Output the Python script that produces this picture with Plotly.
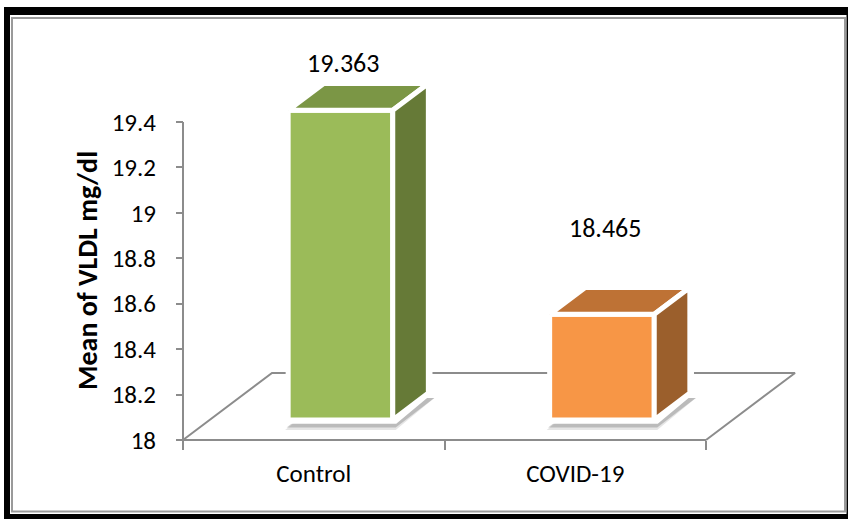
import plotly.graph_objects as go

# ---- data -------------------------------------------------------------
categories = ["Control", "COVID-19"]
means = [19.363, 18.465]
value_labels = ["19.363", "18.465"]
y_ticks = [18, 18.2, 18.4, 18.6, 18.8, 19, 19.2, 19.4]
y_tick_text = ["18", "18.2", "18.4", "18.6", "18.8", "19", "19.2", "19.4"]
y_title = "Mean of VLDL mg/dl"

# ---- styling ----------------------------------------------------------
FONT = "Calibri, Carlito, Lato, sans-serif"
FS_TICK = 25
FS_VALUE = 26
FS_TITLE = 28
AXIS_GRAY = "#8C8C8C"
face_colors = [
    dict(front="#9BBB59", top="#7B9645", side="#667A37"),
    dict(front="#F79646", top="#BE7235", side="#9B5F2C"),
]
label_yshift = [47, 86]

W, H = 848, 520
X0_PX, CAT_PX = 183, 261.5      # left end of the floor, width of one category
Y0_PX, UNIT_PX = 440, 227.1     # pixel row of the baseline, pixels per mg/dl
BASE = 18.0
DEPTH_PX = (89, 67)             # oblique offset of the floor's back edge

x_range = [-X0_PX / CAT_PX, (W - X0_PX) / CAT_PX]
y_range = [BASE - (H - Y0_PX) / UNIT_PX, BASE + Y0_PX / UNIT_PX]
DX = DEPTH_PX[0] / CAT_PX
DY = DEPTH_PX[1] / UNIT_PX
HALF_W = 0.2                    # half bar width (category units)
D_FRONT, D_BACK = 0.3, 0.7      # bar depth span inside the floor
n = len(categories)

fig = go.Figure()


def poly(xs, ys, fill, line_color="white", line_width=5):
    fig.add_trace(go.Scatter(
        x=list(xs) + [xs[0]], y=list(ys) + [ys[0]],
        mode="lines", fill="toself", fillcolor=fill,
        line=dict(color=line_color, width=line_width),
        hoverinfo="skip", showlegend=False))


# floor of the 3-D plot
fig.add_trace(go.Scatter(
    x=[n, 0, DX, n + DX, n],
    y=[BASE, BASE, BASE + DY, BASE + DY, BASE],
    mode="lines", line=dict(color=AXIS_GRAY, width=2),
    hoverinfo="skip", showlegend=False))

# value axis line
fig.add_trace(go.Scatter(
    x=[0, 0], y=[BASE, y_ticks[-1]],
    mode="lines", line=dict(color=AXIS_GRAY, width=2),
    hoverinfo="skip", showlegend=False))

# 3-D columns
for i, (cat, v) in enumerate(zip(categories, means)):
    c = i + 0.5
    xl_f, xr_f = c - HALF_W + D_FRONT * DX, c + HALF_W + D_FRONT * DX
    xl_b, xr_b = c - HALF_W + D_BACK * DX, c + HALF_W + D_BACK * DX
    yb_f, yb_b = BASE + D_FRONT * DY, BASE + D_BACK * DY
    yt_f, yt_b = v + D_FRONT * DY, v + D_BACK * DY
    col = face_colors[i]

    # soft shadow under the column
    sdx, sdy = 3 / CAT_PX, 5 / UNIT_PX
    for k, a in [(1.0, 0.10), (0.5, 0.18)]:
        poly([xl_f - sdx * k, xr_f + sdx, xr_b + sdx * 2, xl_b],
             [yb_f - sdy * (1 + k), yb_f - sdy * (1 + k), yb_b - sdy, yb_b - sdy],
             "rgba(0,0,0,%.2f)" % a, line_color="rgba(0,0,0,0)", line_width=0)

    poly([xl_f - 0.012, xr_f + 0.012, xr_b + 0.012, xr_b + 0.012, xl_b - 0.012],
         [yb_f - 0.012, yb_f - 0.012, yb_b, yt_b + 0.014, yt_b + 0.014],
         "white", line_color="white", line_width=2)
    poly([xl_f, xr_f, xr_f, xl_f], [yb_f, yb_f, yt_f, yt_f], col["front"])
    poly([xl_f, xr_f, xr_b, xl_b], [yt_f, yt_f, yt_b, yt_b], col["top"])
    poly([xr_f, xr_b, xr_b, xr_f], [yb_f, yb_b, yt_b, yt_f], col["side"])

    fig.add_annotation(
        x=c + D_FRONT * DX, y=yt_f, text=value_labels[i],
        showarrow=False, xshift=3, yshift=label_yshift[i],
        font=dict(family=FONT, size=FS_VALUE, color="#000000"))

# ---- frame --------------------------------------------------------------
def px(xp):
    return xp / W


def py(yp):
    return 1 - yp / H


shapes = [
    dict(type="rect", x0=px(4), x1=px(848), y0=py(7), y1=py(15)),
    dict(type="rect", x0=px(4), x1=px(10), y0=py(7), y1=py(519)),
    dict(type="rect", x0=px(4), x1=px(848), y0=py(514), y1=py(519)),
    dict(type="rect", x0=px(846.5), x1=px(848), y0=py(7), y1=py(519)),
]
for s in shapes:
    s.update(xref="paper", yref="paper", fillcolor="black",
             line=dict(width=0), layer="above")
shapes.append(dict(type="rect", xref="paper", yref="paper",
                   x0=px(12), x1=px(845), y0=py(18), y1=py(511.5),
                   line=dict(color="#9A9A9A", width=2),
                   fillcolor="rgba(0,0,0,0)", layer="above"))

fig.add_annotation(
    x=px(87), y=py(271), xref="paper", yref="paper",
    xanchor="center", yanchor="middle",
    text="<b>%s</b>" % y_title, textangle=-90, showarrow=False,
    font=dict(family=FONT, size=FS_TITLE, color="#000000"))

fig.update_layout(
    width=W, height=H,
    margin=dict(l=0, r=0, t=0, b=0, pad=0),
    paper_bgcolor="white", plot_bgcolor="white",
    font=dict(family=FONT, size=FS_TICK, color="#000000"),
    shapes=shapes,
    showlegend=False,
    xaxis=dict(
        range=x_range, domain=[0, 1], anchor="free", position=(H - Y0_PX) / H,
        showgrid=False, zeroline=False, showline=False,
        tickmode="array", tickvals=[i + 0.5 for i in range(n)],
        ticktext=categories, ticks="", ticklabelstandoff=16,
        tickfont=dict(family=FONT, size=FS_TICK, color="#000000"),
        minor=dict(tickmode="array", tickvals=list(range(n + 1)),
                   ticks="outside", ticklen=9, tickwidth=2,
                   tickcolor=AXIS_GRAY, showgrid=False),
        fixedrange=True,
    ),
    yaxis=dict(
        range=y_range, domain=[0, 1], anchor="free", position=X0_PX / W,
        showgrid=False, zeroline=False, showline=False,
        tickmode="array", tickvals=y_ticks, ticktext=y_tick_text,
        ticks="outside", ticklen=7, tickwidth=2, tickcolor=AXIS_GRAY,
        ticklabelstandoff=15,
        tickfont=dict(family=FONT, size=FS_TICK, color="#000000"),
        fixedrange=True,
    ),
)

fig.write_html("out.html")
